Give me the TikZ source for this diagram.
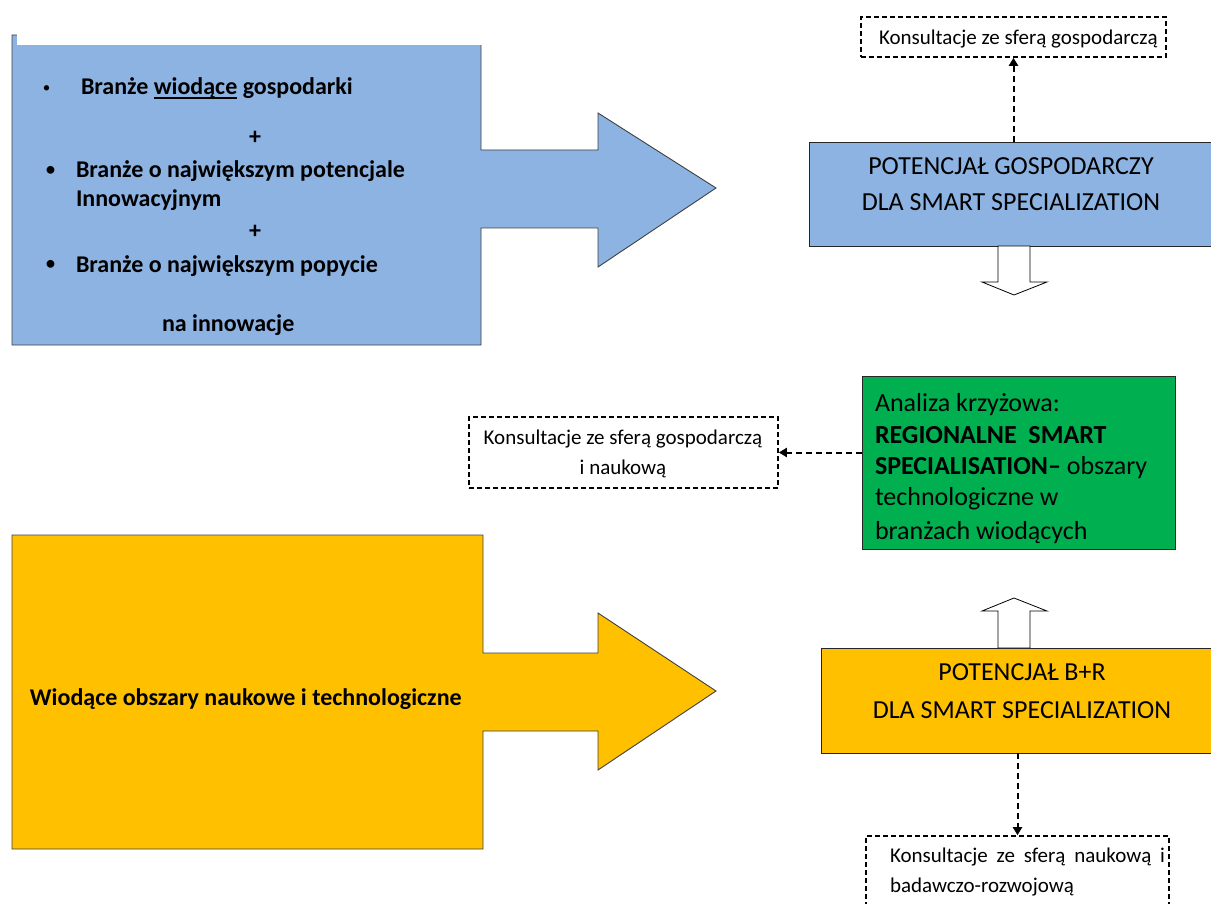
\documentclass[tikz,border=0pt]{standalone}
\usepackage{fontspec}
\setmainfont{Carlito}
\usetikzlibrary{arrows.meta,calc}
\definecolor{bluefill}{HTML}{8DB3E2}
\definecolor{yellowfill}{HTML}{FFC000}
\definecolor{greenfill}{HTML}{00B050}
\newcommand{\szBig}{\fontsize{26}{31}\selectfont}
\newcommand{\szBold}{\fontsize{24}{29}\selectfont\bfseries}
\newcommand{\szSmall}{\fontsize{21}{25}\selectfont}
\newcommand{\myul}[1]{\setbox0\hbox{#1}\rlap{\rule[-3.6pt]{\wd0}{1.8pt}}#1}
\begin{document}
\begin{tikzpicture}[x=1pt,y=-1pt,
  bigshape/.style={draw=black!75,line width=0.9pt},
  rectbox/.style={draw=black!85,line width=0.9pt,inner sep=0pt},
  dashbox/.style={draw=black,line width=1.6pt,dash pattern=on 5pt off 3pt,inner sep=0pt,fill=white},
  dasharrow/.style={line width=2pt,dash pattern=on 6pt off 4pt,-{Triangle[length=8pt,width=9pt]}},
  hollow/.style={draw=black,line width=0.8pt,fill=white},
  txt/.style={inner sep=0pt,outer sep=0pt},
]
\useasboundingbox (0,0) rectangle (1211,904);
% big blue arrow
\path[bigshape,fill=bluefill] (12,35) -- (12,345) -- (481,345) -- (481,228) -- (598,228) -- (598,267)
  -- (716,188) -- (598,113) -- (598,150) -- (481,150) -- (481,35) -- cycle;
\fill[white] (16.5,32) rectangle (484,45);
% big yellow arrow
\path[bigshape,fill=yellowfill] (12,535) -- (12,849) -- (483,849) -- (483,731) -- (598,731) -- (598,770)
  -- (716,691) -- (598,613) -- (598,653) -- (483,653) -- (483,535) -- cycle;
% texts in blue arrow
\node[txt,font=\fontsize{15}{18}\selectfont] (b1) at (46.5,89) {•};
\node[txt,anchor=base west,font=\szBold] (t1) at (81,95) {Branże \myul{wiodące} gospodarki};
\node[txt,font=\szBold] (p1) at (255,138) {+};
\node[txt,font=\fontsize{22}{26}\selectfont] (b2) at (50.5,171) {•};
\node[txt,anchor=base west,font=\szBold] (t2) at (76,178) {Branże o największym potencjale};
\node[txt,anchor=base west,font=\szBold] (t3) at (76,206.5) {Innowacyjnym};
\node[txt,font=\szBold] (p2) at (255,232) {+};
\node[txt,font=\fontsize{22}{26}\selectfont] (b3) at (50.5,265.5) {•};
\node[txt,anchor=base west,font=\szBold] (t4) at (76,273) {Branże o największym popycie};
\node[txt,anchor=base west,font=\szBold] (t5) at (162,331.5) {na innowacje};
% text in yellow arrow
\node[txt,anchor=base west,font=\szBold] (ty) at (30,705) {Wiodące obszary naukowe i technologiczne};
% right column boxes
\node[rectbox,fill=bluefill,minimum width=410,minimum height=104] (pg) at (1014,194) {};
\node[txt,anchor=base,font=\szBig] (pg1) at (1011,175) {POTENCJAŁ GOSPODARCZY};
\node[txt,anchor=base,font=\szBig] (pg2) at (1011,211) {DLA SMART SPECIALIZATION};
\node[rectbox,fill=greenfill,minimum width=313,minimum height=173] (gr) at (1018.5,462.5) {};
\node[txt,anchor=base west,font=\szBig] (g1) at (875,411) {Analiza krzyżowa:};
\node[txt,anchor=base west,font=\szBig] (g2) at (875,443) {\textbf{REGIONALNE\ \ SMART}};
\node[txt,anchor=base west,font=\szBig] (g3) at (875,474) {\textbf{SPECIALISATION–} obszary};
\node[txt,anchor=base west,font=\szBig] (g4) at (875,505) {technologiczne w};
\node[txt,anchor=base west,font=\szBig] (g5) at (875,539) {branżach wiodących};
\node[rectbox,fill=yellowfill,minimum width=400,minimum height=105] (yr) at (1021,700.5) {};
\node[txt,anchor=base,font=\szBig] (yr1) at (1022,680) {POTENCJAŁ B+R};
\node[txt,anchor=base,font=\szBig] (yr2) at (1022,718) {DLA SMART SPECIALIZATION};
% dashed boxes
\node[dashbox,minimum width=305,minimum height=40] (tk) at (1013.5,37) {};
\node[txt,anchor=base west,font=\szSmall] (tkt) at (879,45) {Konsultacje ze sferą gospodarczą};
\node[dashbox,minimum width=309,minimum height=71] (mb) at (623.5,452.5) {};
\node[txt,anchor=base,font=\szSmall] (mb1) at (623,444) {Konsultacje ze sferą gospodarczą};
\node[txt,anchor=base,font=\szSmall] (mb2) at (623,474) {i naukową};
\node[dashbox,minimum width=303,minimum height=80] (bb) at (1017.5,876) {};
\node[txt,anchor=base west,font=\szSmall] (bb1) at (890,862) {\makebox[275pt][s]{Konsultacje ze sferą naukową i}};
\node[txt,anchor=base west,font=\szSmall] (bb2) at (890,892) {badawczo-rozwojową};
% dashed connectors
\draw[dasharrow] (tk.south |- pg.north) -- (tk.south);
\draw[dasharrow] (gr.west |- mb.east) -- (mb.east);
\draw[dasharrow] (bb.north |- yr.south) -- (bb.north);
% hollow block arrows
\path[hollow] (998,246) -- (998,282) -- (982,282) -- (1014,295) -- (1047,282) -- (1030,282) -- (1030,246) -- cycle;
\path[hollow] (998,648) -- (998,611) -- (982,611) -- (1014,598) -- (1047,611) -- (1030,611) -- (1030,648) -- cycle;
\end{tikzpicture}
\end{document}
